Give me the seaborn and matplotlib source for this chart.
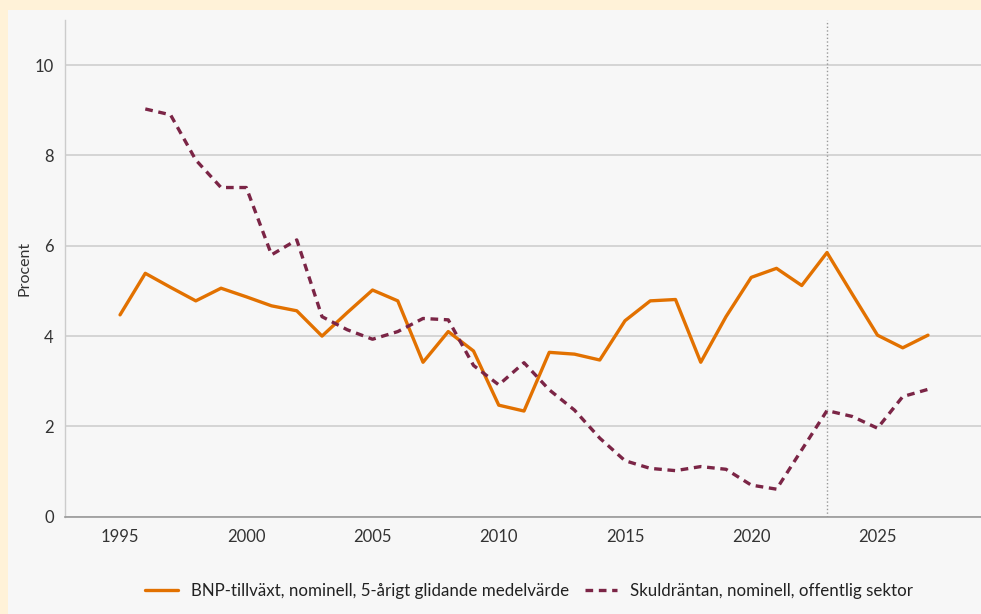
import pandas as pd
import numpy as np
import matplotlib.pyplot as plt
import seaborn as sns
from matplotlib.patches import Rectangle

# BNP-tillväxt, 5-årigt glidande medelvärde (1995-2027)
bnp_years = list(range(1995, 2028))
bnp_values = [4.47, 5.39, 5.08, 4.78, 5.06, 4.87, 4.67, 4.56, 4.00, 4.52,
              5.02, 4.78, 3.42, 4.10, 3.67, 2.47, 2.34, 3.64, 3.60, 3.47,
              4.34, 4.78, 4.81, 3.42, 4.43, 5.30, 5.50, 5.12, 5.85, 4.93,
              4.02, 3.74, 4.02]

# Skuldräntan, offentlig sektor (1996-2027)
skuld_years = list(range(1996, 2028))
skuld_values = [9.03, 8.90, 7.90, 7.29, 7.29, 5.80, 6.13, 4.43, 4.14, 3.93,
                4.10, 4.39, 4.36, 3.35, 2.92, 3.41, 2.81, 2.36, 1.74, 1.24,
                1.07, 1.02, 1.11, 1.05, 0.70, 0.61, 1.48, 2.35, 2.22, 1.96,
                2.66, 2.82]

bnp_label = 'BNP-tillväxt, nominell, 5-årigt glidande medelvärde'
skuld_label = 'Skuldräntan, nominell, offentlig sektor'
forecast_year = 2023

df = pd.concat([
    pd.DataFrame({'år': bnp_years, 'procent': bnp_values, 'serie': bnp_label}),
    pd.DataFrame({'år': skuld_years, 'procent': skuld_values, 'serie': skuld_label}),
], ignore_index=True)

sns.set_theme(style='white')
plt.rcParams['font.family'] = ['Lato', 'DejaVu Sans']

ORANGE = '#E27100'
MAROON = '#7B2546'

fig = plt.figure(figsize=(9.81, 6.14), dpi=100, facecolor='#FFF2D8')
# ljusgrå panel bakom diagrammet
panel = Rectangle((8 / 981, 0), 1, 1 - 10 / 614, transform=fig.transFigure,
                  facecolor='#F7F7F7', edgecolor='none', zorder=-10)
fig.add_artist(panel)

ax = fig.add_axes([65 / 981, 1 - 516.7 / 614, 1 - 65 / 981, (516.7 - 20) / 614])
ax.set_facecolor('#F7F7F7')
ax.set_zorder(1)

sns.lineplot(data=df, x='år', y='procent', hue='serie', style='serie',
             palette={bnp_label: ORANGE, skuld_label: MAROON},
             dashes={bnp_label: '', skuld_label: (2.3, 1.7)},
             linewidth=2.4, ax=ax)

ax.axvline(forecast_year, color='#999999', linestyle=':', linewidth=1, zorder=1)

ax.set_xlim(1992.82, 2029.1)
ax.set_ylim(0, 11)
ax.set_yticks([0, 2, 4, 6, 8, 10])
ax.set_xticks(range(1995, 2030, 5))
ax.grid(axis='y', color='#D2D2D2', linewidth=1.3)
ax.set_axisbelow(True)

for side in ['top', 'right']:
    ax.spines[side].set_visible(False)
ax.spines['left'].set_color('#CCCCCC')
ax.spines['left'].set_linewidth(1)
ax.spines['bottom'].set_color('#999999')
ax.spines['bottom'].set_linewidth(1.2)

ax.tick_params(axis='both', length=0, labelsize=12, colors='#333333')
ax.tick_params(axis='x', pad=9)
ax.tick_params(axis='y', pad=8)
ax.set_xlabel('')
ax.set_ylabel('Procent', fontsize=11.5, color='#333333', labelpad=2)

ax.legend(loc='upper center', bbox_to_anchor=(0.507, -0.102), ncol=2, frameon=False,
          fontsize=12.2, handlelength=1.9, handletextpad=0.8, columnspacing=0.9,
          labelcolor='#222222')

fig.savefig('out.png', dpi=100, facecolor=fig.get_facecolor())
